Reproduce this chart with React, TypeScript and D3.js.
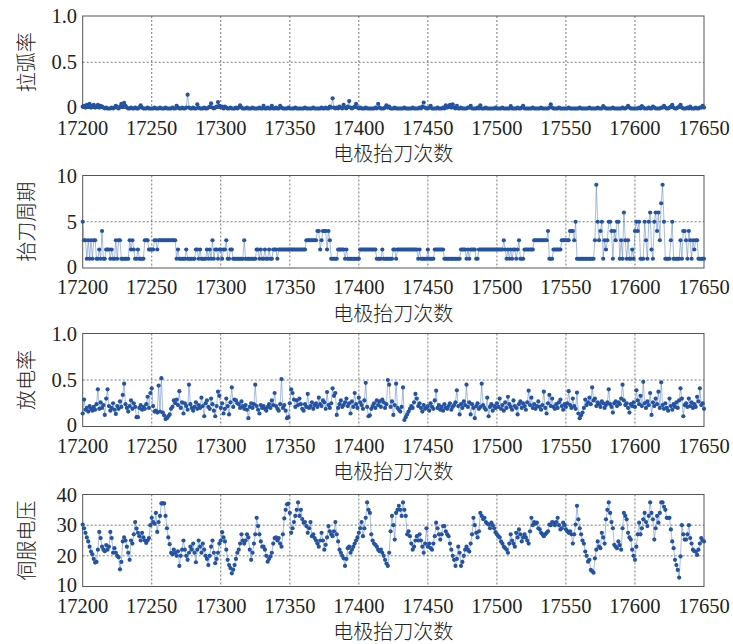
import React from "react";
import * as d3 from "d3";

const xStart = 17200;
const xEnd = 17650;
const xTicks = [17200, 17250, 17300, 17350, 17400, 17450, 17500, 17550, 17600, 17650];
const xLabel = "电极抬刀次数";
const yLabels = ["拉弧率", "抬刀周期", "放电率", "伺服电压"];

const ticks1 = [0, 0.5, 1];
const tickLabels1 = ["0", "0.5", "1.0"];
const ticks2 = [0, 5, 10];
const tickLabels2 = ["0", "5", "10"];
const ticks3 = [0, 0.5, 1];
const tickLabels3 = ["0", "0.5", "1.0"];
const ticks4 = [10, 20, 30, 40];
const tickLabels4 = ["10", "20", "30", "40"];

// 拉弧率
const arcRate = [
  0.02,0.03,0.01,0.04,0.02,0.05,0.01,0.03,0.04,0.01,
  0.02,0.04,0.01,0.03,0.02,0.01,0,0.01,0,0,
  0,0.01,0,0.01,0.03,0.01,0,0.02,0.05,0.02,
  0.06,0.03,0.01,0,0,0.01,0,0,0.01,0,
  0,0.01,0.035,0.01,0,0,0,0.01,0,0,
  0,0,0.01,0,0,0,0.01,0,0,0,
  0.01,0,0,0,0,0.01,0,0,0.03,0.01,
  0,0,0.01,0,0,0.01,0.15,0.01,0,0,
  0.01,0,0,0.045,0.01,0,0,0,0.01,0,
  0,0.01,0.02,0.055,0.01,0,0.01,0.02,0.07,0.03,
  0.01,0.02,0,0.02,0.01,0,0,0.01,0,0,
  0,0.01,0,0.01,0.035,0.01,0,0,0,0.01,
  0,0,0,0.01,0,0,0,0,0.01,0,
  0,0.03,0,0,0.01,0,0,0.03,0,0,
  0.01,0,0,0.03,0.01,0,0,0,0,0.01,
  0,0,0,0,0.01,0,0,0,0,0,
  0,0.01,0,0,0,0,0,0.01,0,0,
  0,0,0,0.01,0,0,0.01,0,0,0.02,
  0.01,0.11,0.01,0,0.01,0,0.02,0.01,0,0.04,
  0.01,0,0.02,0.08,0.01,0,0.01,0.02,0.05,0.01,
  0,0.01,0,0,0,0.01,0,0,0,0,
  0,0,0.01,0,0.05,0.01,0,0,0,0.01,
  0.035,0.01,0.02,0,0,0,0.01,0,0,0,
  0,0,0,0.01,0,0,0,0,0,0.01,
  0,0,0,0,0.01,0,0.02,0.065,0.01,0,
  0,0.01,0.03,0,0,0,0,0.01,0,0,
  0,0.01,0,0.035,0.01,0.02,0.04,0.01,0.045,0.01,
  0,0.03,0,0,0.01,0,0,0,0,0.01,
  0.01,0.03,0,0,0,0,0.01,0,0.035,0,
  0,0,0.01,0,0,0,0,0,0,0.01,
  0,0,0,0,0.01,0,0,0,0,0,
  0.025,0,0,0,0,0.01,0,0,0.01,0.03,
  0,0,0,0,0,0,0.01,0,0,0,
  0,0,0.01,0,0,0,0,0,0.01,0.045,
  0.01,0,0,0,0,0.01,0,0,0,0,
  0,0,0.01,0,0,0,0,0,0,0,
  0.01,0,0,0,0,0,0,0.01,0,0,
  0,0,0,0.01,0,0,0,0.025,0.01,0,
  0,0,0,0,0.01,0,0,0,0,0,
  0,0.01,0,0,0.01,0.03,0.01,0,0,0,
  0,0,0,0.01,0,0.025,0.01,0,0,0,
  0.01,0,0,0.02,0.01,0,0,0,0,0.01,
  0.01,0.03,0.01,0,0,0.01,0.02,0.04,0.01,0,
  0,0.01,0.02,0.04,0.01,0,0,0,0.01,0,
  0.02,0,0,0,0.01,0,0,0.01,0.01,0.03,
  0.01
];

// 抬刀周期
const liftPeriod = [
  5,3,3,1,3,1,3,1,3,3,
  1,1,2,1,4,1,1,2,2,2,
  1,2,1,1,3,1,3,3,1,1,
  1,1,1,1,3,2,3,2,1,1,
  2,1,1,1,1,3,3,3,2,2,
  2,2,3,3,2,3,3,3,3,3,
  3,3,3,3,3,3,3,3,1,2,
  1,1,1,1,1,2,1,1,1,1,
  1,1,2,2,1,2,1,1,1,1,
  2,1,2,1,3,1,2,2,1,2,
  2,1,2,2,3,1,1,2,2,1,
  1,1,1,1,1,1,1,3,1,1,
  1,1,1,1,1,1,2,2,1,2,
  1,1,2,1,1,2,1,1,2,2,
  2,1,2,2,2,2,2,2,2,2,
  2,2,2,2,2,2,2,2,2,2,
  2,2,3,3,3,3,3,3,3,3,
  4,4,2,3,4,4,4,2,4,3,
  1,1,1,1,1,2,2,2,2,2,
  1,2,1,1,1,1,1,1,1,1,
  1,2,2,2,2,2,2,2,2,2,
  2,2,2,1,1,1,1,2,1,1,
  1,1,1,1,1,2,2,1,2,2,
  2,2,2,2,2,2,2,2,2,2,
  2,2,2,1,2,1,1,1,1,1,
  2,1,1,1,1,2,2,2,2,2,
  2,2,1,1,1,1,1,1,1,1,
  1,1,1,1,2,2,2,2,1,2,
  1,2,2,2,2,1,1,2,2,2,
  2,2,2,2,2,2,2,2,2,2,
  2,2,2,2,2,3,2,1,2,1,
  2,1,2,2,1,2,3,1,1,1,
  2,2,2,2,2,2,2,3,3,3,
  3,3,3,3,3,3,3,4,1,1,
  1,2,2,2,2,2,2,3,3,3,
  3,3,3,4,4,4,3,5,1,1,
  1,1,1,1,1,1,1,1,1,1,
  1,3,9,5,3,4,5,1,3,2,
  3,5,5,4,1,4,3,5,5,1,
  3,1,6,3,1,3,1,1,2,1,
  4,5,4,5,1,1,1,5,3,1,
  5,6,2,1,5,6,4,6,3,7,
  9,5,1,1,1,1,3,5,1,1,
  1,1,1,3,1,4,4,3,1,4,
  3,1,3,2,3,3,1,1,1,1,
  1
];

// 放电率
const dischargeRate = [
  0.14,0.29,0.18,0.2,0.16,0.22,0.19,0.17,0.21,0.18,
  0.24,0.40,0.19,0.26,0.2,0.23,0.125,0.3,0.40,0.22,
  0.17,0.2,0.25,0.18,0.135,0.22,0.19,0.27,0.21,0.34,
  0.46,0.24,0.2,0.16,0.22,0.28,0.19,0.25,0.21,0.1,
  0.1,0.2,0.23,0.18,0.21,0.19,0.24,0.32,0.2,0.36,
  0.41,0.22,0.16,0.17,0.15,0.44,0.16,0.52,0.15,0.12,
  0.08,0.09,0.11,0.13,0.19,0.21,0.28,0.25,0.29,0.23,
  0.38,0.2,0.26,0.14,0.25,0.22,0.18,0.45,0.24,0.2,
  0.17,0.21,0.26,0.19,0.23,0.2,0.31,0.22,0.11,0.25,
  0.28,0.21,0.19,0.3,0.24,0.17,0.11,0.22,0.375,0.33,
  0.2,0.25,0.14,0.19,0.3,0.22,0.13,0.26,0.42,0.21,
  0.29,0.28,0.25,0.24,0.2,0.27,0.22,0.19,0.23,0.18,
  0.09,0.21,0.25,0.2,0.24,0.45,0.22,0.18,0.14,0.23,
  0.2,0.22,0.19,0.17,0.21,0.24,0.2,0.28,0.23,0.36,
  0.22,0.19,0.17,0.24,0.51,0.2,0.23,0.17,0.09,0.1,
  0.25,0.40,0.36,0.29,0.21,0.28,0.23,0.3,0.24,0.19,
  0.17,0.24,0.21,0.35,0.2,0.22,0.26,0.19,0.23,0.25,
  0.21,0.31,0.24,0.22,0.28,0.26,0.19,0.37,0.23,0.2,
  0.25,0.41,0.33,0.36,0.125,0.2,0.24,0.28,0.21,0.23,
  0.26,0.3,0.22,0.25,0.14,0.27,0.21,0.36,0.24,0.2,
  0.31,0.26,0.23,0.19,0.28,0.47,0.21,0.11,0.12,0.19,
  0.22,0.25,0.2,0.28,0.23,0.27,0.21,0.29,0.26,0.2,
  0.24,0.5,0.45,0.21,0.27,0.125,0.23,0.46,0.2,0.18,
  0.16,0.21,0.42,0.07,0.1,0.13,0.16,0.19,0.22,0.2,
  0.26,0.35,0.3,0.22,0.25,0.2,0.16,0.23,0.19,0.2,
  0.22,0.17,0.25,0.21,0.19,0.28,0.385,0.2,0.23,0.18,
  0.21,0.17,0.24,0.2,0.19,0.22,0.25,0.18,0.21,0.23,
  0.26,0.39,0.22,0.13,0.24,0.2,0.27,0.23,0.45,0.21,
  0.26,0.13,0.24,0.2,0.09,0.22,0.25,0.19,0.21,0.46,
  0.23,0.2,0.18,0.31,0.11,0.21,0.24,0.17,0.22,0.2,
  0.25,0.21,0.3,0.19,0.23,0.17,0.26,0.2,0.32,0.24,
  0.21,0.18,0.28,0.22,0.2,0.13,0.24,0.27,0.2,0.25,
  0.22,0.18,0.26,0.385,0.23,0.31,0.2,0.24,0.19,0.22,
  0.27,0.21,0.18,0.23,0.375,0.2,0.14,0.25,0.34,0.22,
  0.3,0.21,0.19,0.24,0.2,0.26,0.29,0.22,0.18,0.24,
  0.21,0.25,0.38,0.23,0.2,0.3,0.22,0.19,0.365,0.14,
  0.09,0.12,0.15,0.2,0.29,0.23,0.26,0.31,0.24,0.42,
  0.28,0.3,0.22,0.26,0.24,0.21,0.27,0.25,0.2,0.23,
  0.26,0.40,0.24,0.21,0.15,0.25,0.27,0.22,0.26,0.24,
  0.3,0.45,0.28,0.23,0.25,0.2,0.15,0.24,0.22,0.26,
  0.21,0.39,0.28,0.24,0.33,0.22,0.48,0.25,0.2,0.27,
  0.23,0.36,0.125,0.26,0.22,0.3,0.24,0.375,0.2,0.475,
  0.23,0.19,0.25,0.2,0.17,0.3,0.22,0.18,0.24,0.21,
  0.26,0.2,0.28,0.41,0.3,0.11,0.23,0.25,0.21,0.3,
  0.22,0.26,0.2,0.24,0.21,0.32,0.27,0.41,0.23,0.25,
  0.19
];

// 伺服电压
const servoVoltage = [
  30.2,29,27.5,26,24.7,23,21.4,20.5,19,17.8,
  18,22,27.8,25.8,23,22,21.5,23.5,22,23,
  27.8,25.8,21,22.5,21,20,19.5,15.6,18,24.7,
  26,25,23,21,18.7,25,24,27,31,28.9,
  27.5,26.4,25,27.5,26,25,24.2,25,25.8,30,
  32.4,31,30.5,34,27.8,31,33,37.1,37.1,37.1,
  33,29,26,23.8,21,20.5,22,21,20,21.5,
  16.7,20,22,25,22,20,18.7,21,23,22,
  24,21,17.9,22,25,23,21,24,22,20,
  19,17,20,23,25,21,17.6,19,21,24,
  25,27.7,26,24.7,22,18.7,17,16,14.3,15.5,
  17,19,21,22,24,27,25,24,25,27,
  26,22,18.7,21,24,27,32.4,29.7,27,24.7,
  23,23,22,20,18.1,19,19.8,21,24,25.8,
  26,25,25.8,24,23,27,32.2,35,36.8,37,
  34,27.5,29,31,33,35,37.4,33,35,32,
  30.8,31,29.7,27.5,29,31,26.4,27,25.8,25,
  24,23,25,27.5,25,22,23.6,26,29.7,28,
  27,26.4,28,31,27,24.7,22,21,20,19.2,
  16.7,19,22.5,23,21,22,23,24,25,26,
  27.5,29,31,26.4,29,32.4,37.4,35,34,27,
  25,24,23.6,23,22,21.5,22,21,20,18.7,
  17.5,16.7,21,28,33,30,25.3,34,35,36.3,
  35,33,37.4,35,33,27,28,26.4,24,22,
  23,25,26.4,25,27,25,23,21,24,29,
  23,24,22.5,22,24,26.4,30.8,29,27,25.3,
  27,29.7,29.7,28,27,26.4,24,22,20,18.7,
  16.7,19,23,21,16.7,18,20,22,23,22,
  21.4,24,27,32.4,30,27.5,26,28,34,33,
  32,32.4,31,30.5,30.2,29,30.8,30,29,27.7,
  27,26.4,26,24.7,24,23,22.5,22,21,24,
  27,25,24,23,27.5,26,28.6,27,24.7,26,
  27,26,25,24,28,32.4,30,31,30.5,30.8,
  29,28.6,27.5,27,26.4,27,27.5,28,30.2,30,
  31,30.8,30,31,32.4,30,28.6,29,30.8,30,
  28.6,28,27.5,28,27,24,27,30.2,36.3,31.9,
  29,27,25,24,21.4,20,18.1,18.7,15.4,15,
  14.5,19.2,22,24.7,23,22.5,27.5,26,24,31.9,
  35,37.4,34,31,29,23.6,23,22.5,24.7,23.5,
  22,29,34,33,31.9,27.5,26,25.3,22,20,
  18.7,23,27,30.8,27,29,31.9,34,31,29.7,
  33,37.4,34,31.9,25.3,29,33,30.8,34,37.4,
  37.4,36,35,32.4,32.4,32.4,28.6,24.7,22.5,18.7,
  17,15.4,12.9,19.8,30,27,25.3,25.3,27,30,
  25.8,24,22,21.5,21.4,20.3,22,24,25.8,25,
  24.7
];

const W = 733;
const H = 644;
const plotLeft = 82.7;
const plotRight = 704;
const numFont = "'Liberation Serif','Times New Roman',serif";
const cjkFont = "'Noto Sans CJK SC','Noto Sans CJK JP',sans-serif";
const markerColor = "#2453a3";
const lineColor = "#5279c0";
const gridColor = "#555";
const axisColor = "#555";

const panels = [
  { top: 16, bottom: 108.5, data: arcRate, domain: [0, 1], ticks: ticks1, labels: tickLabels1, title: yLabels[0] },
  { top: 175.5, bottom: 268, data: liftPeriod, domain: [0, 10], ticks: ticks2, labels: tickLabels2, title: yLabels[1] },
  { top: 333.5, bottom: 426.5, data: dischargeRate, domain: [0, 1], ticks: ticks3, labels: tickLabels3, title: yLabels[2] },
  { top: 494.5, bottom: 586.5, data: servoVoltage, domain: [10, 40], ticks: ticks4, labels: tickLabels4, title: yLabels[3] },
];

export default function App() {
  const x = d3.scaleLinear().domain([xStart, xEnd]).range([plotLeft, plotRight]);
  return (
    <svg width={W} height={H} style={{ position: "absolute", left: 0, top: 0, background: "#fff" }}>
      <rect x={0} y={0} width={W} height={H} fill="#fff" />
      {panels.map((p, pi) => {
        const y = d3.scaleLinear().domain(p.domain).range([p.bottom, p.top]);
        const line = d3
          .line<number>()
          .x((_, i) => x(xStart + i))
          .y((d) => y(d));
        const d0 = p.domain[0];
        const d1 = p.domain[1];
        return (
          <g key={pi}>
            {xTicks.slice(1, -1).map((t) => (
              <line key={"gx" + t} x1={x(t)} x2={x(t)} y1={p.top} y2={p.bottom}
                stroke={gridColor} strokeWidth={0.8} strokeDasharray="2,2" />
            ))}
            {p.ticks.filter((t) => t !== d0 && t !== d1).map((t) => (
              <line key={"gy" + t} x1={plotLeft} x2={plotRight} y1={y(t)} y2={y(t)}
                stroke={gridColor} strokeWidth={0.8} strokeDasharray="2,2" />
            ))}
            <rect x={plotLeft} y={p.top} width={plotRight - plotLeft} height={p.bottom - p.top}
              fill="none" stroke={axisColor} strokeWidth={1} />
            <path d={line(p.data) || ""} fill="none" stroke={lineColor} strokeWidth={0.6} strokeOpacity={0.85} />
            {p.data.map((v, i) => (
              <circle key={i} cx={x(xStart + i)} cy={y(v)} r={2.1} fill={markerColor} />
            ))}
            {p.ticks.map((t, ti) => (
              <text key={"yt" + t} x={77} y={y(t) + (ti === 0 ? 5.5 : 7)} textAnchor="end"
                fontFamily={numFont} fontSize={20.5} fill="#222">{p.labels[ti]}</text>
            ))}
            {xTicks.map((t) => (
              <text key={"xt" + t} x={x(t)} y={p.bottom + 26} textAnchor="middle"
                fontFamily={numFont} fontSize={20.5} fill="#222">{t}</text>
            ))}
            <text x={(plotLeft + plotRight) / 2} y={p.bottom + 44} textAnchor="middle"
              dominantBaseline="central" fontFamily={cjkFont} fontWeight={300} fontSize={20} fill="#222">{xLabel}</text>
            <text transform={`translate(25,${(p.top + p.bottom) / 2}) rotate(-90)`} textAnchor="middle"
              dominantBaseline="central" fontFamily={cjkFont} fontWeight={300} fontSize={20} fill="#222">{p.title}</text>
          </g>
        );
      })}
    </svg>
  );
}
